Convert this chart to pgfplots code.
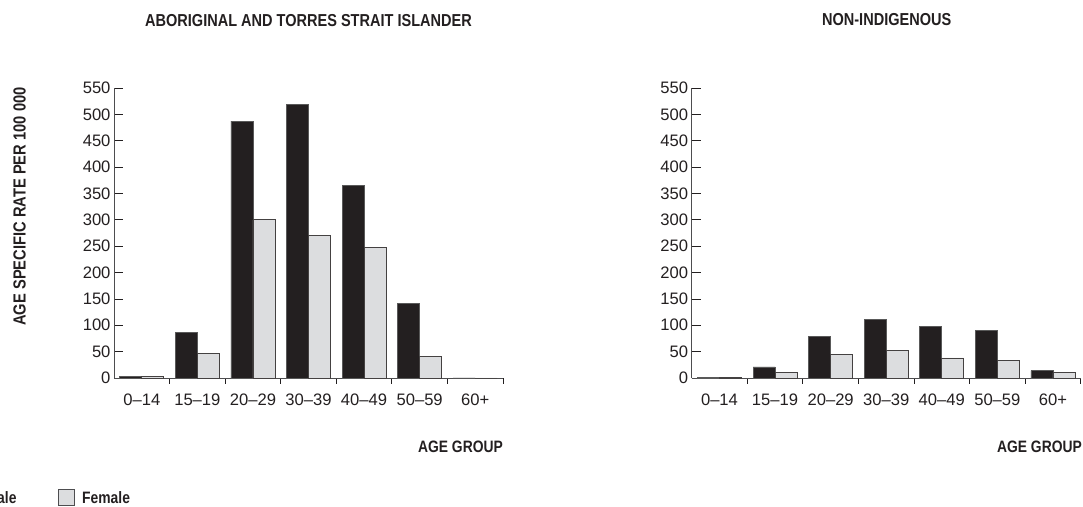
\documentclass[border=0pt]{standalone}
\usepackage{fontspec}
\setmainfont{Liberation Sans}
\newfontfamily\cb{Liberation Sans}[FakeStretch=0.84]
\usepackage{pgfplots}
\pgfplotsset{compat=1.18}
\definecolor{ink}{HTML}{231F20}
\definecolor{fem}{HTML}{DCDDDF}
\definecolor{axc}{HTML}{4D4D4F}
\pgfplotsset{
  mybars/.style={
    scale only axis, width=389bp, height=290bp,
    anchor=south west,
    xmin=-0.5, xmax=6.5, ymin=0, ymax=550,
    axis x line=bottom, axis y line=left,
    axis line style={-, draw=axc, line width=0.9bp},
    ytick={0,50,...,550},
    xtick={0,...,6},
    xticklabels={0--14,15--19,20--29,30--39,40--49,50--59,60+},
    minor xtick={0.5,1.5,...,6.5},
    tick align=inside,
    major tick length=9bp, minor tick length=6bp,
    major x tick style={draw=none},
    tick style={draw=ink, line width=0.8bp},
    minor tick style={draw=ink, line width=0.8bp},
    tick label style={font=\fontsize{16.6bp}{19bp}\selectfont, text=ink},
    /pgf/number format/assume math mode=true,
    xticklabel style={yshift=-3bp},
    ybar=0pt, bar width=22bp,
    clip=false,
  },
  male/.style={fill=ink, draw=gray!70!black, line width=0.8bp},
  female/.style={fill=fem, draw=ink!85, line width=0.8bp},
}
\begin{document}
\begin{tikzpicture}[x=1bp,y=1bp]
\useasboundingbox (0,0) rectangle (1083,507);
% Left panel
\begin{axis}[mybars, at={(114bp,129bp)}]
\addplot[male] coordinates {(0,3) (1,86) (2,487) (3,518) (4,365) (5,141) (6,0)};
\addplot[female] coordinates {(0,3) (1,46) (2,300) (3,270) (4,248) (5,41) (6,0)};
\end{axis}
% Right panel
\begin{axis}[mybars, at={(691.7bp,129bp)}]
\addplot[male] coordinates {(0,1) (1,21) (2,78) (3,111) (4,97) (5,90) (6,14)};
\addplot[female] coordinates {(0,1) (1,11) (2,45) (3,53) (4,38) (5,34) (6,10)};
\end{axis}
\begin{scope}[every node/.style={font=\cb\bfseries\fontsize{16.5bp}{19bp}\selectfont, text=ink, inner sep=0pt}]
\node[font=\cb\bfseries\fontsize{17.3bp}{19bp}\selectfont] at (308.5,486.5) {ABORIGINAL AND TORRES STRAIT ISLANDER};
\node[font=\cb\bfseries\fontsize{17.3bp}{19bp}\selectfont] at (886.7,487) {NON-INDIGENOUS};
\node[rotate=90, font=\cb\bfseries\fontsize{17.5bp}{19bp}\selectfont] at (19.5,300.5) {AGE SPECIFIC RATE PER 100 000};
\node[anchor=east] at (503,60) {AGE GROUP};
\node[anchor=east] at (1082,60) {AGE GROUP};
% legend
\draw[fill=ink, draw=gray!70!black, line width=0.8bp] (-38,2) rectangle (-22.3,17.7);
\node[anchor=west] at (-14.5,9.5) {Male};
\draw[fill=fem, draw=axc, line width=0.8bp] (58.3,2) rectangle (74,17.7);
\node[anchor=west] at (82,9.5) {Female};
\end{scope}
\end{tikzpicture}
\end{document}
